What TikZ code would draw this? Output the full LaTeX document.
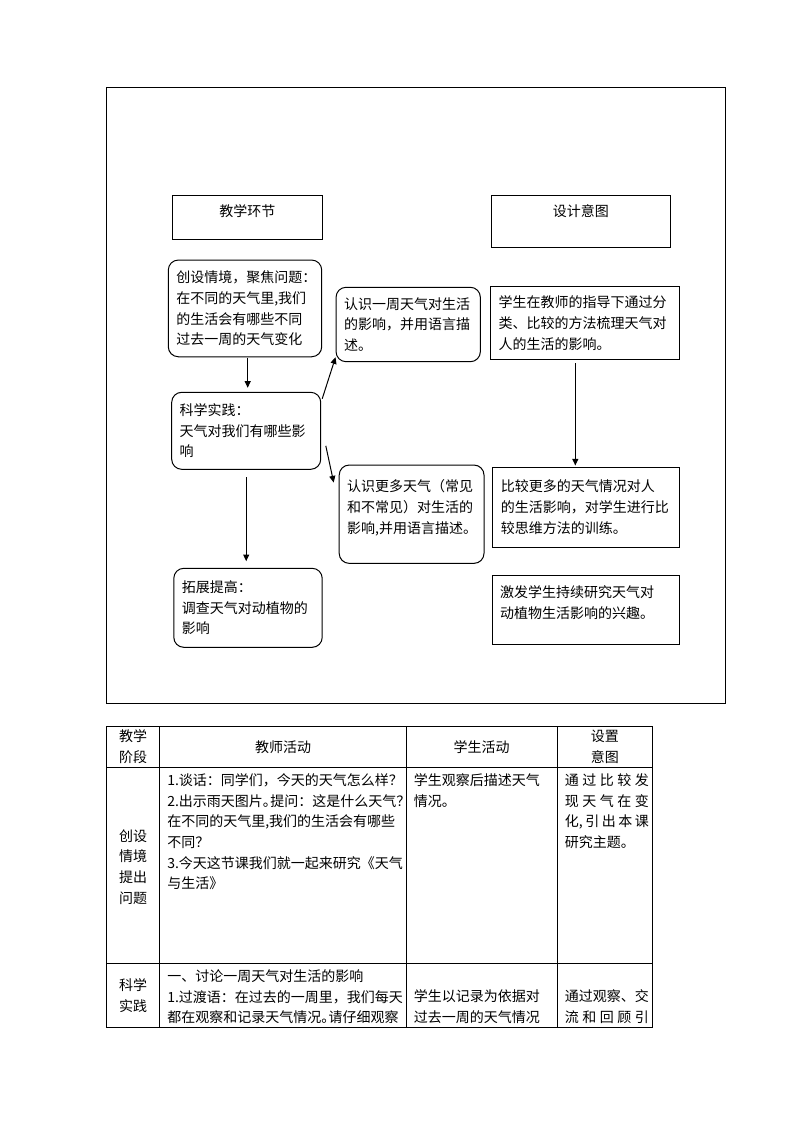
\documentclass[tikz,border=0pt]{standalone}
\usepackage{fontspec}
\newfontfamily\cjk{Noto Sans CJK SC}
\usetikzlibrary{arrows.meta,calc}
\newlength{\upx}\setlength{\upx}{0.75pt}

\tikzstyle{headbox}=[draw, line width=0.75pt, align=center]
\tikzstyle{stagebox}=[draw, line width=0.75pt, rounded corners=7.5pt, align=left, inner xsep=8\upx]
\tikzstyle{aimbox}=[draw, line width=0.75pt, align=left, inner xsep=8\upx]
\tikzstyle{cell}=[anchor=north west, inner sep=0pt, align=left]
\tikzstyle{cellc}=[inner sep=0pt, align=center]

\begin{document}
\begin{tikzpicture}[x=0.75pt, y=-0.75pt, >={Triangle[length=5pt,width=4.5pt]},
  every node/.style={font=\cjk\fontsize{10.5pt}{15.5pt}\selectfont}]
\useasboundingbox (0,0) rectangle (794,1123);

% flow chart
\draw[line width=0.75pt] (106.7,87.7) rectangle (725,703);

\node[headbox, minimum width=150\upx, minimum height=44.3\upx] (stage) at (247.3,217.2) {教学环节\\[-5pt]~};
\node[headbox, minimum width=179.7\upx, minimum height=52.3\upx] (aim) at (580.9,221.2) {设计意图\\~};

\node[stagebox, text width=137.4\upx, minimum height=96.7\upx] (intro) at (245,308.4) {创设情境，聚焦问题：\\在不同的天气里,我们\\的生活会有哪些不同\\过去一周的天气变化};
\node[stagebox, text width=133\upx, minimum height=77\upx] (practice) at (246.2,430.8) {科学实践：\\天气对我们有哪些影\\响};
\node[stagebox, text width=132.4\upx, minimum height=79\upx] (extend) at (248,607.8) {拓展提高：\\调查天气对动植物的\\影响};
\node[stagebox, text width=128.3\upx, minimum height=74.4\upx] (week) at (408.2,324.5) {认识一周天气对生活\\的影响，并用语言描\\述。};
\node[stagebox, text width=128.8\upx, minimum height=98.3\upx] (more) at (411.6,514.2) {认识更多天气（常见\\和不常见）对生活的\\影响,并用语言描述。\\[-3.8pt]~};

\node[aimbox, text width=172.6\upx, minimum height=72.6\upx] (aimA) at (585,323) {学生在教师的指导下通过分\\类、比较的方法梳理天气对\\人的生活的影响。};
\node[aimbox, text width=170.5\upx, minimum height=80\upx] (aimB) at (586,507.3) {比较更多的天气情况对人\\的生活影响，对学生进行比\\较思维方法的训练。};
\node[aimbox, text width=171.3\upx, minimum height=69\upx] (aimC) at (585.7,609.5) {激发学生持续研究天气对\\动植物生活影响的兴趣。\\[-4.5pt]~};

\begin{scope}[line width=0.75pt]
  \draw[->, shorten <=1\upx, shorten >=4\upx] ([xshift=2.7\upx]intro.south) -- ([xshift=2.7\upx]intro.south |- practice.north);
  \draw[->] ($(practice.north east)+(1,7)$) -- ($(week.south west)+(0,-5)$);
  \draw[->] ($(practice.east)+(4.6,15)$) -- ($(more.north west)+(-5,18)$);
  \draw[->, shorten <=7.4\upx, shorten >=6.6\upx] (practice.south) -- (practice.south |- extend.north);
  \draw[->, shorten <=3.4\upx, shorten >=1.3\upx] ([xshift=-9.7\upx]aimA.south) -- ([xshift=-9.7\upx]aimA.south |- aimB.north);
\end{scope}

% table
\draw[line width=0.75pt] (106,726) rectangle (652,1027.7);
\draw[line width=0.75pt] (106,767) -- (652,767);
\draw[line width=0.75pt] (106,963) -- (652,963);
\foreach \x in {159.5,406,557.5}
  \draw[line width=0.75pt] (\x,726) -- (\x,1027.7);

\node[cellc] (h1) at (133,746.7) {教学\\阶段};
\node[cellc] (h2) at (283,746.7) {教师活动};
\node[cellc] (h3) at (481.7,746.7) {学生活动};
\node[cellc] (h4) at (604.8,746.7) {设置\\意图};

\node[cellc] (s1) at (133,866.7) {创设\\情境\\提出\\问题};
\node[cell] (t1) at (167,773.5) {1.谈话：同学们，今天的天气怎么样？\\2.出示雨天图片。\kern-5pt 提问：这是什么天气？\\在不同的天气里,我们的生活会有哪些\\不同？\\3.今天这节课我们就一起来研究《天气\\与生活》};
\node[cell] (p1) at (413.6,773.5) {学生观察后描述天气\\情况。};
\node[cell] (a1) at (564.7,773.5) {\makebox[84\upx][s]{通\hfill 过\hfill 比\hfill 较\hfill 发}\\\makebox[84\upx][s]{现\hfill 天\hfill 气\hfill 在\hfill 变}\\\makebox[84\upx][s]{化,\hfill 引\hfill 出\hfill 本\hfill 课}\\研究主题。};

\node[cellc] (s2) at (133,995.5) {科学\\实践};
\node[cell] (t2) at (167,969.5) {一、讨论一周天气对生活的影响\\1.过渡语：在过去的一周里，我们每天\\都在观察和记录天气情况。\kern-5pt 请仔细观察};
\node[cell] (p2) at (413.6,989.5) {学生以记录为依据对\\过去一周的天气情况};
\node[cell] (a2) at (564.7,989.5) {\makebox[84\upx][s]{通\hfill 过\hfill 观\hfill 察\hfill 、\hfill 交}\\\makebox[84\upx][s]{流\hfill 和\hfill 回\hfill 顾\hfill 引}};
\end{tikzpicture}
\end{document}
